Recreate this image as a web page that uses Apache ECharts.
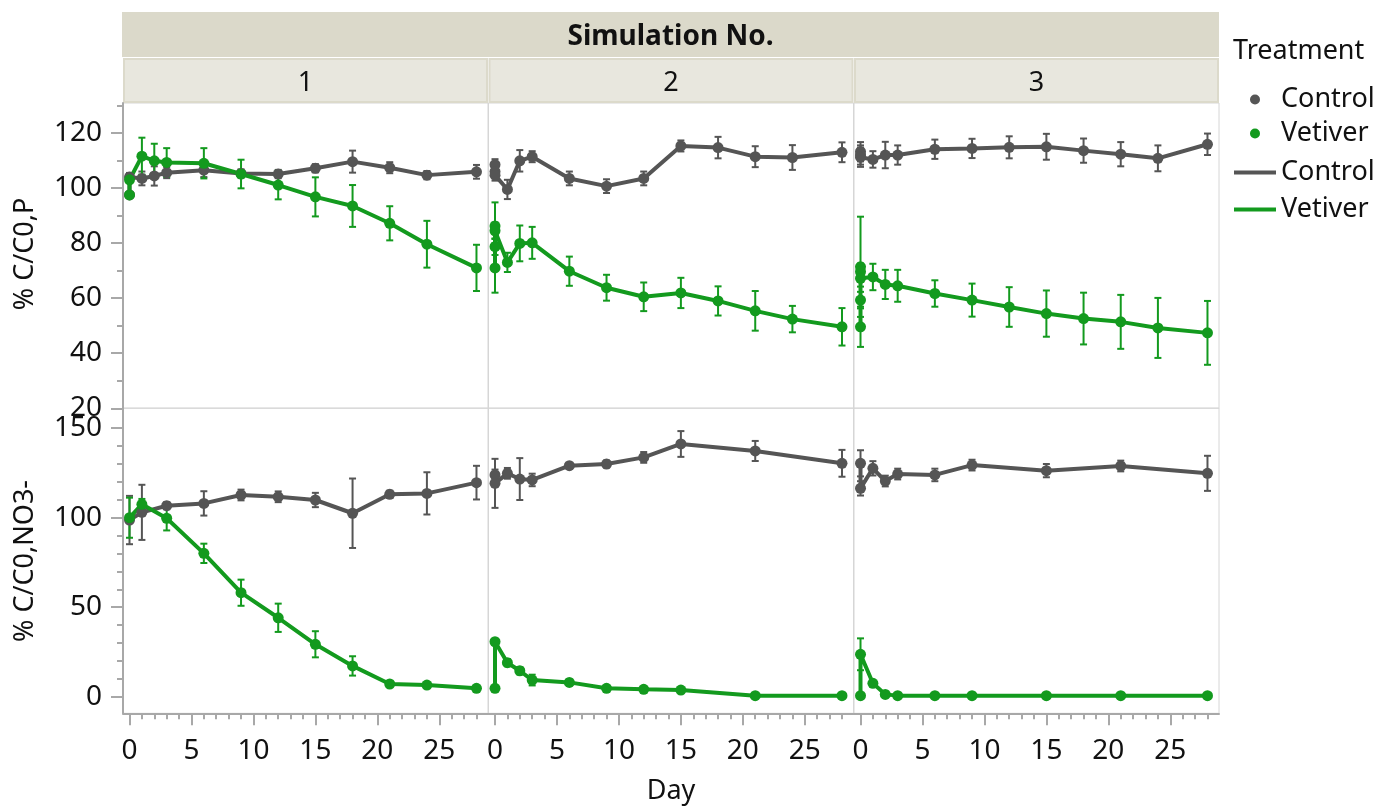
<!DOCTYPE html>
<html><head><meta charset="utf-8">
<script src="https://cdn.jsdelivr.net/npm/echarts@6/dist/echarts.min.js"></script>
<style>html,body{margin:0;padding:0;background:#fff}#c{width:1381px;height:809px}</style>
</head><body><div id="c"></div>
<script>
// ---------- texts & ticks ----------
const simulations = ['1', '2', '3'];
const treatments = ['Control', 'Vetiver'];
const yTitles = ['% C/C0,P', '% C/C0,NO3-'];
const xTitle = 'Day';
const facetTitle = 'Simulation No.';
const legendTitle = 'Treatment';
const xTickLabels = [0, 5, 10, 15, 20, 25];
const xMinorTicks = [0,1,2,3,4,5,6,7,8,9,10,11,12,13,14,15,16,17,18,19,20,21,22,23,24,25,26,27,28];
const pTickLabels = [20, 40, 60, 80, 100, 120];
const pMinorTicks = [30, 50, 70, 90, 110, 130];
const no3TickLabels = [0, 50, 100, 150];
const no3MinorTicks = [10, 20, 30, 40, 60, 70, 80, 90, 110, 120, 130, 140];

// ---------- data: [day, mean, error] ----------
// % C/C0,P
const P_sim1_control = [[0,97.5,1],[0,104,1.5],[1,103.5,2.5],[2,104.4,3.5],[3,105.6,2],[6,106.5,2.5],[9,105.3,1.5],[12,105.1,1.5],[15,107.2,1.5],[18,109.6,4],[21,107.4,2],[24,104.7,1.5],[28,105.9,2.5]];
const P_sim1_vetiver = [[0,97.5,1],[0,103,1],[1,111.6,6.7],[2,109.9,6.2],[3,109.3,5.2],[6,109,5.5],[9,105.1,5.2],[12,101.1,5.2],[15,96.8,7.1],[18,93.5,7.6],[21,87.2,6.2],[24,79.6,8.5],[28,71,8.4]];
const P_sim2_control = [[0,108.5,2],[0,106,2],[0,104.7,2],[1,99.5,3.5],[2,109.9,3.9],[3,111.4,2],[6,103.5,2.5],[9,100.7,2.5],[12,103.5,2.5],[15,115.3,2],[18,114.7,3.9],[21,111.4,3.8],[24,111.1,4.5],[28,113,3.6]];
const P_sim2_vetiver = [[0,71,9],[0,78.7,3],[0,86.2,8.6],[0,84.5,3],[1,73,3.5],[2,79.9,6.5],[3,80.1,5.8],[6,69.8,5.3],[9,63.8,4.7],[12,60.5,5.2],[15,61.9,5.5],[18,59,5.3],[21,55.4,7.2],[24,52.4,4.8],[28,49.6,6.8]];
const P_sim3_control = [[0,113.2,3.5],[0,112,3.5],[0,111.2,3.5],[1,110.4,3],[2,112,4.8],[3,112,3.5],[6,114.1,3.5],[9,114.4,3.5],[12,114.8,4],[15,115,4.7],[18,113.6,4.4],[21,112.3,4.4],[24,110.8,4.7],[28,115.9,3.9]];
const P_sim3_vetiver = [[0,49.6,7.3],[0,59.3,3],[0,71.4,18.2],[0,69.6,3],[0,67.2,3],[1,67.7,4.8],[2,65,5.3],[3,64.5,5.8],[6,61.7,4.8],[9,59.3,6],[12,56.8,7.2],[15,54.4,8.4],[18,52.6,9.4],[21,51.4,9.8],[24,49.2,10.9],[28,47.4,11.6]];
// % C/C0,NO3-
const NO3_sim1_control = [[0,98.7,13.5],[1,103,15.4],[3,106.7,2],[6,108,6.8],[9,112.7,3],[12,111.7,3],[15,109.9,4],[18,102.5,19.4],[21,113.1,2],[24,113.6,11.8],[28,119.6,9.4]];
const NO3_sim1_vetiver = [[0,100,11.2],[1,107.5,3],[3,99.7,6.8],[6,80.1,5.4],[9,58.1,7.3],[12,44.1,7.9],[15,29.3,7.3],[18,17.2,5.4],[21,7.1,1],[24,6.5,1],[28,4.7,1]];
const NO3_sim2_control = [[0,123.9,3],[0,119.2,13.7],[1,124.8,3],[2,121.6,11.7],[3,121.1,3.5],[6,129.1,1.5],[9,130,2],[12,133.7,3],[15,141.2,7.2],[21,137.3,5.6],[28,130.4,7.5]];
const NO3_sim2_vetiver = [[0,4.7,1],[0,30.7,1.5],[1,19,2],[2,14.5,2],[3,9.3,3],[6,8,1.5],[9,4.7,1],[12,4.1,1],[15,3.7,1],[21,0.6,0.5],[28,0.6,0.5]];
const NO3_sim3_control = [[0,130.4,7.3],[0,116.4,4],[1,127.6,4],[2,120.5,3],[3,124.4,3],[6,123.9,3.5],[9,129.4,3],[15,126.3,3.7],[21,128.9,3],[28,124.8,9.8]];
const NO3_sim3_vetiver = [[0,0.6,0.5],[0,23.7,8.9],[1,7.5,1],[2,1.3,0.5],[3,0.6,0],[6,0.6,0],[9,0.6,0],[15,0.6,0],[21,0.6,0],[28,0.6,0]];

// ---------- layout & style ----------
const FONT = '"Noto Sans", "Open Sans", sans-serif';
const TXT = '#111111';
const FS = 27;
const COLORS = { Control: '#555555', Vetiver: '#139a1e' };
const AX = '#a8a8a8';
const colLeft = [123, 488.5, 854], colW = 365;
const rowTop = [103, 408], rowH = 305.3;
const yRange = [[20, 130.9], [-9.27, 161.3]];
const xRange = [-0.525, 28.93];
const yMajor = [pTickLabels, no3TickLabels];
const yMinor = [pMinorTicks, no3MinorTicks];

const panelData = [
  [P_sim1_control, P_sim1_vetiver], [P_sim2_control, P_sim2_vetiver], [P_sim3_control, P_sim3_vetiver],
  [NO3_sim1_control, NO3_sim1_vetiver], [NO3_sim2_control, NO3_sim2_vetiver], [NO3_sim3_control, NO3_sim3_vetiver]
];

function renderErr(params, api) {
  const x = api.value(0), lo = api.value(1), hi = api.value(2);
  const p1 = api.coord([x, hi]), p2 = api.coord([x, lo]);
  const hw = 3.5;
  const st = { stroke: api.visual('color'), lineWidth: 2 };
  return { type: 'group', children: [
    { type: 'line', shape: { x1: p1[0], y1: p1[1], x2: p2[0], y2: p2[1] }, style: st },
    { type: 'line', shape: { x1: p1[0] - hw, y1: p1[1], x2: p1[0] + hw, y2: p1[1] }, style: st },
    { type: 'line', shape: { x1: p2[0] - hw, y1: p2[1], x2: p2[0] + hw, y2: p2[1] }, style: st }
  ]};
}

const grids = [], xAxes = [], yAxes = [], series = [];
for (let r = 0; r < 2; r++) {
  for (let c = 0; c < 3; c++) {
    grids.push({ left: colLeft[c], top: rowTop[r], width: colW, height: rowH, show: true,
      borderColor: '#d6d6d6', borderWidth: 1, containLabel: false, outerBoundsMode: 'none' });
  }
}
// main axes
for (let g = 0; g < 6; g++) {
  const r = Math.floor(g / 3), c = g % 3;
  const bottom = r === 1;
  xAxes.push({
    gridIndex: g, type: 'value', position: 'bottom', min: xRange[0], max: xRange[1],
    show: bottom,
    name: (bottom && c === 1) ? xTitle : '', nameLocation: 'middle', nameGap: 65,
    nameTextStyle: { fontSize: FS, fontFamily: FONT, color: TXT },
    axisLine: { show: bottom, onZero: false, lineStyle: { color: AX, width: 2 } },
    axisTick: { show: bottom, length: 12, lineStyle: { color: AX, width: 2 }, customValues: xTickLabels },
    axisLabel: { show: bottom, customValues: xTickLabels, fontSize: 28, fontFamily: FONT, color: TXT, margin: 24 },
    splitLine: { show: false }
  });
  yAxes.push({
    gridIndex: g, type: 'value', position: 'left', min: yRange[r][0], max: yRange[r][1],
    show: c === 0,
    axisLine: { show: c === 0, onZero: false, lineStyle: { color: AX, width: 2 } },
    axisTick: { show: c === 0, length: 12, lineStyle: { color: AX, width: 2 }, customValues: yMajor[r] },
    axisLabel: { show: c === 0, customValues: yMajor[r], fontSize: 28, fontFamily: FONT, color: TXT, margin: 21 },
    splitLine: { show: false }
  });
}
// minor tick axes
for (let c = 0; c < 3; c++) {
  xAxes.push({
    gridIndex: 3 + c, type: 'value', position: 'bottom', min: xRange[0], max: xRange[1],
    axisLine: { show: false, onZero: false },
    axisTick: { show: true, length: 6, lineStyle: { color: AX, width: 2 }, customValues: xMinorTicks },
    axisLabel: { show: false }, splitLine: { show: false }
  });
}
for (let r = 0; r < 2; r++) {
  yAxes.push({
    gridIndex: r * 3, type: 'value', position: 'left', min: yRange[r][0], max: yRange[r][1],
    axisLine: { show: false, onZero: false },
    axisTick: { show: true, length: 6, lineStyle: { color: AX, width: 2 }, customValues: yMinor[r] },
    axisLabel: { show: false }, splitLine: { show: false }
  });
}
// series
for (let g = 0; g < 6; g++) {
  treatments.forEach((t, ti) => {
    const arr = panelData[g][ti];
    series.push({
      type: 'custom', name: t + ' error', xAxisIndex: g, yAxisIndex: g, silent: true,
      itemStyle: { color: COLORS[t] }, renderItem: renderErr,
      encode: { x: 0, y: [1, 2] },
      data: arr.map(d => [d[0], d[1] - d[2], d[1] + d[2]])
    });
    series.push({
      type: 'line', name: t, xAxisIndex: g, yAxisIndex: g,
      symbol: 'circle', symbolSize: 11, showSymbol: true,
      lineStyle: { width: 4, color: COLORS[t] }, itemStyle: { color: COLORS[t] },
      data: arr.map(d => [d[0], d[1]])
    });
  });
}

// graphics: strips, titles
const graphic = [
  { type: 'rect', shape: { x: 122, y: 12, width: 1097, height: 45 }, style: { fill: '#dbd9ca' } },
  { type: 'text', x: 670.5, y: 37, style: { text: facetTitle, fontSize: 28, fontWeight: 'bold', fontFamily: FONT, fill: TXT, align: 'center', verticalAlign: 'middle' } },
  { type: 'text', x: 1233, y: 51, style: { text: legendTitle, fontSize: FS, fontFamily: FONT, fill: TXT, align: 'left', verticalAlign: 'middle' } },
  { type: 'text', x: 25, y: 254, rotation: Math.PI / 2, style: { text: yTitles[0], fontSize: FS, fontFamily: FONT, fill: TXT, align: 'center', verticalAlign: 'middle' } },
  { type: 'text', x: 25, y: 561, rotation: Math.PI / 2, style: { text: yTitles[1], fontSize: FS, fontFamily: FONT, fill: TXT, align: 'center', verticalAlign: 'middle' } }
];
simulations.forEach((s, c) => {
  graphic.push({ type: 'rect', shape: { x: colLeft[c] + 1, y: 59, width: colW - 2, height: 43 }, style: { fill: '#e8e7de', stroke: '#dcdacb', lineWidth: 2 } });
  graphic.push({ type: 'text', x: colLeft[c] + colW / 2, y: 83, style: { text: s, fontSize: FS, fontFamily: FONT, fill: TXT, align: 'center', verticalAlign: 'middle' } });
});

const chart = echarts.init(document.getElementById('c'), null, { renderer: 'canvas' });
chart.setOption({
  animation: false,
  backgroundColor: '#ffffff',
  textStyle: { fontFamily: FONT },
  grid: grids, xAxis: xAxes, yAxis: yAxes, series: series, graphic: graphic,
  legend: [
    { data: treatments, orient: 'vertical', left: 1250, top: 86, padding: 0, icon: 'circle',
      itemWidth: 42, itemHeight: 10, itemGap: 7, selectedMode: false,
      textStyle: { fontSize: FS, fontFamily: FONT, color: TXT } },
    { data: treatments, orient: 'vertical', left: 1234, top: 159, padding: 0, icon: 'rect',
      itemWidth: 42, itemHeight: 4, itemGap: 10, selectedMode: false,
      textStyle: { fontSize: FS, fontFamily: FONT, color: TXT } }
  ]
});
</script></body></html>
